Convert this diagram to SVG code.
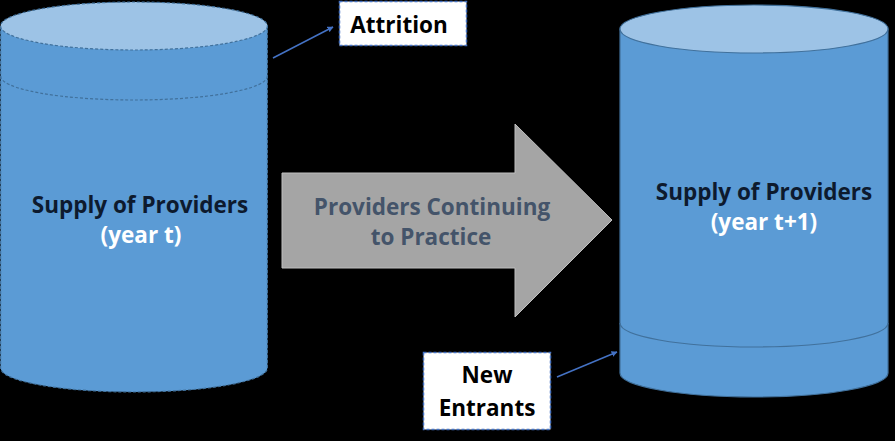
<svg xmlns="http://www.w3.org/2000/svg" width="895" height="441" viewBox="0 0 895 441">
<defs>
<style>
.body{fill:#5b9bd5;stroke:#41719c;stroke-width:1.2}
.top{fill:#9dc3e6;stroke:#41719c;stroke-width:1.2}
.dash{stroke-dasharray:3 2}
.arc{fill:none;stroke:#41719c;stroke-width:1.2}
.lbl{font-family:"Open Sans","Liberation Sans",sans-serif;font-weight:bold;font-size:22.5px;text-anchor:middle}
.box{fill:#ffffff;stroke:#4472c4;stroke-width:1.5;stroke-dasharray:3 2}
.conn{stroke:#4472c4;stroke-width:1.5;fill:none}
</style>
<marker id="ah" viewBox="0 0 10 10" refX="9" refY="5" markerWidth="6" markerHeight="6" orient="auto" markerUnits="userSpaceOnUse">
<path d="M0,0 L10,5 L0,10 z" fill="#4472c4"/>
</marker>
</defs>
<rect x="0" y="0" width="895" height="441" fill="#000000"/>
<g id="cyl-left">
<path class="body dash" d="M0.6,26 L0.6,368 A133.4,24 0 0 0 267.4,368 L267.4,26 Z"/>
<ellipse class="top dash" cx="134" cy="26" rx="133.4" ry="24"/>
<path class="arc dash" d="M0.6,76 A133.4,24 0 0 0 267.4,76"/>
<text class="lbl" x="140" y="213" fill="#0d1a2e">Supply of Providers</text>
<text class="lbl" x="141" y="243" fill="#ffffff">(year t)</text>
</g>
<g id="cyl-right">
<path class="body" d="M620,29 L620,373 A134,24 0 0 0 888,373 L888,29 Z"/>
<ellipse class="top" cx="754" cy="29" rx="134" ry="24"/>
<path class="arc" d="M620,323 A134,24 0 0 0 888,323"/>
<text class="lbl" x="764" y="200" fill="#0d1a2e">Supply of Providers</text>
<text class="lbl" x="764" y="230" fill="#ffffff">(year t+1)</text>
</g>
<g id="flow-arrow">
<polygon points="282,173 515,173 515,124 612,220 515,317 515,268 282,268" fill="#a5a5a5" stroke="#bfbfbf" stroke-width="1"/>
<text class="lbl" x="432" y="215" fill="#44546a">Providers Continuing</text>
<text class="lbl" x="431" y="245" fill="#44546a">to Practice</text>
</g>
<g id="attrition">
<rect class="box" x="339.5" y="1.5" width="127" height="44"/>
<text class="lbl" x="399" y="33" fill="#000000">Attrition</text>
</g>
<g id="new-entrants">
<rect class="box" x="423.5" y="352.5" width="127" height="77"/>
<text class="lbl" x="487" y="383" fill="#000000">New</text>
<text class="lbl" x="487" y="416" fill="#000000">Entrants</text>
</g>
<g id="connectors">
<line class="conn" x1="273" y1="58" x2="333" y2="27" marker-end="url(#ah)"/>
<line class="conn" x1="557" y1="377" x2="617" y2="352" marker-end="url(#ah)"/>
</g>
</svg>
